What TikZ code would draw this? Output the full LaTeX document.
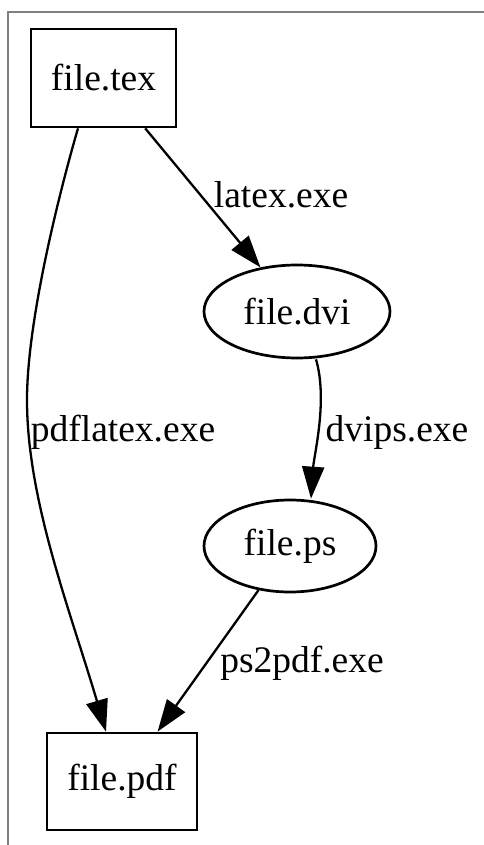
\documentclass[tikz,border=0pt]{standalone}
\usepackage{fontspec}
\setmainfont{Liberation Serif}
\usetikzlibrary{shapes.geometric,arrows.meta}
\tikzset{
  txt/.style={font=\fontsize{37.5}{42}\selectfont},
  box/.style={draw,line width=2.7pt,rectangle,minimum width=145pt,minimum height=98pt,inner sep=0pt,txt},
  oval/.style={draw,line width=2.7pt,ellipse,inner sep=0pt,txt},
  edge/.style={line width=2.3pt,-{Triangle[length=32pt,width=22pt]}},
  lbl/.style={txt,inner sep=0pt}
}
\begin{document}
\begin{tikzpicture}[x=1pt,y=-1pt]
\useasboundingbox (0,0) rectangle (484,845);
\draw[line width=2pt,color=black!50] (8,845) -- (8,12.5) -- (484,12.5);
\node[box] (tex) at (103.5,78) {file.tex};
\node[oval,minimum width=186pt,minimum height=93pt] (dvi) at (297,311.5) {file.dvi};
\node[oval,minimum width=172pt,minimum height=92pt] (ps) at (290,546) {file.ps};
\node[box,minimum width=150pt,minimum height=97pt] (pdf) at (122,781.5) {file.pdf};
\draw[edge] (tex) -- (dvi);
\draw[edge] ([xshift=19pt]dvi.south) .. controls (328,400) and (314,455) .. ([xshift=21pt]ps.north);
\draw[edge] (ps) -- (pdf);
\draw[edge] ([xshift=-25.5pt]tex.south) .. controls (60,190) and (27,320) .. (27,400) .. controls (27,500) and (70,610) .. ([xshift=-16pt]pdf.north);
\node[lbl] (l1) at (281,195) {latex.exe};
\node[lbl] (l2) at (397,432) {dvips.exe};
\node[lbl] (l3) at (123,432) {pdflatex.exe};
\node[lbl] (l4) at (302,663) {ps2pdf.exe};
\end{tikzpicture}
\end{document}
